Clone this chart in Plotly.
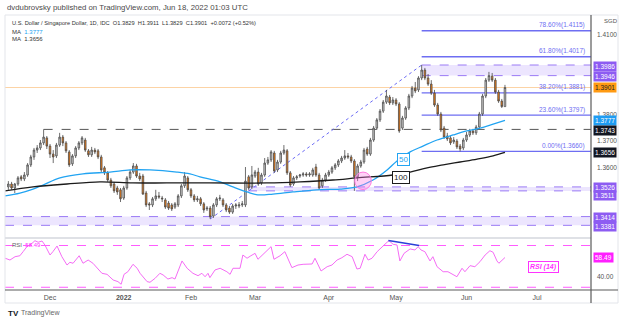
import numpy as np
import pandas as pd
import plotly.graph_objects as go

# ---------------- data ----------------
dates = pd.bdate_range("2021-11-12", "2022-06-17")   # daily bars, USD/SGD

opens = [1.3526, 1.3537, 1.3522, 1.3537, 1.3564, 1.3556, 1.3571, 1.3609, 1.3639, 1.3665, 1.3673, 1.3692, 1.3711,
         1.3680, 1.3650, 1.3643, 1.3684, 1.3714, 1.3692, 1.3658, 1.3613, 1.3643, 1.3673,
         1.3692, 1.3703, 1.3662, 1.3647, 1.3665, 1.3662, 1.3639, 1.3598, 1.3579, 1.3552,
         1.3537, 1.3522, 1.3515, 1.3484, 1.3522, 1.3560, 1.3582, 1.3605, 1.3567, 1.3567,
         1.3503, 1.3462, 1.3458, 1.3481, 1.3492, 1.3484, 1.3477, 1.3465, 1.3458, 1.3450,
         1.3458, 1.3492, 1.3530, 1.3560, 1.3515, 1.3492, 1.3477, 1.3481, 1.3462, 1.3443,
         1.3446, 1.3416, 1.3458, 1.3481, 1.3477, 1.3458, 1.3446, 1.3431, 1.3454, 1.3454,
         1.3458, 1.3458, 1.3564, 1.3526, 1.3567, 1.3582, 1.3541, 1.3571, 1.3616, 1.3628,
         1.3654, 1.3590, 1.3620, 1.3654, 1.3662, 1.3579, 1.3537, 1.3560, 1.3567, 1.3571,
         1.3575, 1.3571, 1.3571, 1.3601, 1.3571, 1.3530, 1.3552, 1.3571, 1.3582, 1.3598,
         1.3609, 1.3624, 1.3635, 1.3643, 1.3639, 1.3624, 1.3564, 1.3605, 1.3620, 1.3669,
         1.3650, 1.3703, 1.3748, 1.3779, 1.3812, 1.3846, 1.3865, 1.3843, 1.3854, 1.3839,
         1.3748, 1.3786, 1.3824, 1.3869, 1.3899, 1.3892, 1.3937, 1.3967, 1.3937, 1.3914,
         1.3880, 1.3835, 1.3801, 1.3748, 1.3718, 1.3711, 1.3696, 1.3699, 1.3680, 1.3673,
         1.3703, 1.3722, 1.3737, 1.3730, 1.3752, 1.3801, 1.3869, 1.3929, 1.3944, 1.3929,
         1.3884, 1.3850, 1.3829]
highs = [1.3548, 1.3545, 1.3541, 1.3567, 1.3571, 1.3582, 1.3616, 1.3647, 1.3673, 1.3684, 1.3703, 1.3743, 1.3718,
         1.3688, 1.3665, 1.3692, 1.3730, 1.3722, 1.3699, 1.3665, 1.3650, 1.3680, 1.3699,
         1.3718, 1.3711, 1.3669, 1.3677, 1.3673, 1.3669, 1.3647, 1.3605, 1.3586, 1.3560,
         1.3545, 1.3530, 1.3522, 1.3530, 1.3567, 1.3590, 1.3616, 1.3613, 1.3579, 1.3575,
         1.3511, 1.3469, 1.3488, 1.3515, 1.3507, 1.3492, 1.3484, 1.3473, 1.3465, 1.3469,
         1.3499, 1.3537, 1.3582, 1.3567, 1.3522, 1.3499, 1.3492, 1.3488, 1.3469, 1.3454,
         1.3454, 1.3465, 1.3488, 1.3496, 1.3484, 1.3465, 1.3454, 1.3462, 1.3465, 1.3469,
         1.3473, 1.3601, 1.3571, 1.3605, 1.3590, 1.3598, 1.3579, 1.3635, 1.3639, 1.3665,
         1.3662, 1.3628, 1.3662, 1.3684, 1.3669, 1.3586, 1.3567, 1.3571, 1.3575, 1.3582,
         1.3582, 1.3582, 1.3598, 1.3613, 1.3579, 1.3560, 1.3579, 1.3590, 1.3605, 1.3616,
         1.3631, 1.3643, 1.3665, 1.3654, 1.3647, 1.3631, 1.3613, 1.3628, 1.3673, 1.3677,
         1.3711, 1.3756, 1.3786, 1.3820, 1.3854, 1.3892, 1.3873, 1.3865, 1.3861, 1.3846,
         1.3794, 1.3831, 1.3877, 1.3907, 1.3922, 1.3944, 1.3986, 1.3975, 1.3952, 1.3929,
         1.3892, 1.3843, 1.3809, 1.3756, 1.3730, 1.3718, 1.3714, 1.3707, 1.3688, 1.3711,
         1.3733, 1.3745, 1.3745, 1.3760, 1.3809, 1.3877, 1.3937, 1.3960, 1.3956, 1.3937,
         1.3892, 1.3858, 1.3911]
lows = [1.3515, 1.3515, 1.3503, 1.3530, 1.3548, 1.3548, 1.3564, 1.3601, 1.3628, 1.3654, 1.3665, 1.3684, 1.3669,
        1.3635, 1.3616, 1.3635, 1.3677, 1.3680, 1.3654, 1.3601, 1.3605, 1.3635, 1.3665,
        1.3684, 1.3658, 1.3639, 1.3639, 1.3650, 1.3631, 1.3582, 1.3571, 1.3545, 1.3522,
        1.3503, 1.3496, 1.3469, 1.3477, 1.3515, 1.3552, 1.3575, 1.3560, 1.3548, 1.3496,
        1.3450, 1.3439, 1.3450, 1.3473, 1.3481, 1.3469, 1.3443, 1.3439, 1.3435, 1.3443,
        1.3450, 1.3484, 1.3522, 1.3507, 1.3484, 1.3469, 1.3469, 1.3454, 1.3428, 1.3435,
        1.3405, 1.3409, 1.3450, 1.3473, 1.3450, 1.3431, 1.3424, 1.3424, 1.3443, 1.3446,
        1.3450, 1.3450, 1.3515, 1.3518, 1.3560, 1.3530, 1.3533, 1.3564, 1.3609, 1.3620,
        1.3579, 1.3582, 1.3613, 1.3647, 1.3571, 1.3526, 1.3530, 1.3552, 1.3560, 1.3564,
        1.3564, 1.3564, 1.3564, 1.3564, 1.3515, 1.3522, 1.3545, 1.3564, 1.3575, 1.3590,
        1.3601, 1.3616, 1.3628, 1.3631, 1.3616, 1.3511, 1.3548, 1.3598, 1.3613, 1.3643,
        1.3643, 1.3696, 1.3741, 1.3771, 1.3805, 1.3839, 1.3835, 1.3835, 1.3831, 1.3730,
        1.3741, 1.3779, 1.3816, 1.3861, 1.3880, 1.3884, 1.3929, 1.3929, 1.3907, 1.3873,
        1.3828, 1.3794, 1.3733, 1.3707, 1.3699, 1.3684, 1.3688, 1.3669, 1.3660, 1.3665,
        1.3696, 1.3714, 1.3722, 1.3722, 1.3745, 1.3794, 1.3861, 1.3922, 1.3922, 1.3877,
        1.3843, 1.3824, 1.3829]
closes = [1.3537, 1.3522, 1.3537, 1.3560, 1.3556, 1.3571, 1.3609, 1.3639, 1.3665, 1.3673, 1.3692, 1.3714, 1.3680,
          1.3650, 1.3639, 1.3684, 1.3714, 1.3692, 1.3662, 1.3609, 1.3643, 1.3673, 1.3692,
          1.3711, 1.3665, 1.3647, 1.3665, 1.3658, 1.3639, 1.3590, 1.3579, 1.3552, 1.3530,
          1.3511, 1.3507, 1.3481, 1.3522, 1.3560, 1.3582, 1.3605, 1.3567, 1.3556, 1.3499,
          1.3458, 1.3458, 1.3481, 1.3492, 1.3488, 1.3481, 1.3450, 1.3446, 1.3443, 1.3462,
          1.3492, 1.3530, 1.3567, 1.3515, 1.3492, 1.3477, 1.3481, 1.3462, 1.3439, 1.3446,
          1.3413, 1.3458, 1.3481, 1.3484, 1.3458, 1.3439, 1.3431, 1.3454, 1.3458, 1.3458,
          1.3462, 1.3548, 1.3522, 1.3571, 1.3582, 1.3537, 1.3571, 1.3616, 1.3628, 1.3658,
          1.3586, 1.3620, 1.3654, 1.3665, 1.3579, 1.3533, 1.3560, 1.3564, 1.3571, 1.3575,
          1.3571, 1.3575, 1.3590, 1.3571, 1.3522, 1.3552, 1.3571, 1.3582, 1.3598, 1.3609,
          1.3624, 1.3635, 1.3643, 1.3639, 1.3624, 1.3564, 1.3605, 1.3620, 1.3665, 1.3650,
          1.3703, 1.3748, 1.3779, 1.3812, 1.3846, 1.3869, 1.3843, 1.3854, 1.3839, 1.3737,
          1.3786, 1.3824, 1.3869, 1.3899, 1.3888, 1.3937, 1.3967, 1.3937, 1.3914, 1.3880,
          1.3835, 1.3801, 1.3741, 1.3714, 1.3707, 1.3692, 1.3703, 1.3677, 1.3669, 1.3703,
          1.3722, 1.3737, 1.3730, 1.3752, 1.3801, 1.3869, 1.3929, 1.3946, 1.3929, 1.3884,
          1.3850, 1.3829, 1.3901]

# moving averages, read as points (bar position relative to 1 Dec 2021, value)
ma50_bar = [-14.0, -9.4, -5.3, -2.2, 3.1, 10.3, 18.7, 25.0, 31.2, 39.6, 43.7, 46.8, 53.1, 57.1, 61.5, 64.9,
            69.6, 75.8, 83.3, 90.5, 95.8, 100.8, 105.2, 108.3, 112.4, 116.4, 120.8, 125.8, 130.1, 134.2, 138.3, 142.0]
ma50_val = [1.3492, 1.3503, 1.3518, 1.3533, 1.3560, 1.3575, 1.3582, 1.3590, 1.3590, 1.3582, 1.3575, 1.3564,
            1.3545, 1.3526, 1.3507, 1.3496, 1.3499, 1.3507, 1.3515, 1.3518, 1.3526, 1.3552, 1.3590, 1.3624,
            1.3658, 1.3680, 1.3703, 1.3722, 1.3737, 1.3748, 1.3763, 1.3777]
ma100_bar = [-14.0, -5.3, 5.3, 15.6, 25.9, 36.5, 49.9, 67.7, 78.0, 88.3, 95.8, 107.0, 112.4, 117.7, 122.7,
             128.0, 133.3, 138.3, 142.0]
ma100_val = [1.3511, 1.3526, 1.3537, 1.3545, 1.3541, 1.3541, 1.3541, 1.3541, 1.3545, 1.3552, 1.3560, 1.3571,
             1.3582, 1.3598, 1.3609, 1.3620, 1.3631, 1.3643, 1.3656]

# RSI(14), read as points
rsi_bar = [-14.0, -12.5, -10.9, -9.4, -8.4, -7.2, -5.6, -4.7, -3.7, -2.5, -1.6, 0.0, 0.9, 2.2, 3.7, 5.3, 6.2,
           7.2, 9.1, 10.3, 11.9, 13.4, 16.2, 17.8, 19.7, 21.2, 22.2, 23.1, 24.3, 25.9, 27.2, 28.1, 30.3,
           31.2, 32.8, 34.3, 35.3, 36.8, 38.1, 39.0, 41.2, 42.8, 44.6, 46.2, 47.4, 48.4, 49.3, 49.9, 51.5,
           53.1, 55.2, 56.2, 57.1, 59.3, 60.2, 61.5, 62.7, 64.0, 64.9, 66.2, 67.7, 69.0, 69.9, 71.8, 73.3,
           75.5, 77.4, 79.0, 81.8, 82.7, 84.6, 86.5, 88.0, 89.6, 91.1, 92.7, 94.3, 95.8, 96.8, 98.3, 99.3,
           100.5, 102.1, 103.6, 105.2, 105.8, 107.1, 108.3, 109.2, 110.5, 112.4, 113.9, 114.9, 115.8,
           117.0, 118.6, 119.5, 120.8, 122.7, 124.2, 127.0, 128.6, 129.5, 131.1, 132.6, 134.2, 135.8,
           137.3, 138.3, 139.5, 140.1, 142.0]
rsi_val = [57.8, 56.1, 59.3, 60.2, 64.1, 68.9, 72.1, 74.6, 73.1, 74.3, 70.5, 60.9, 64.1, 69.5, 59.3, 51.3, 53.9,
           53.0, 60.2, 53.0, 56.1, 53.0, 43.4, 42.4, 37.0, 35.4, 32.9, 42.4, 44.9, 52.0, 48.2, 43.4, 35.4,
           34.8, 38.6, 43.4, 41.8, 37.9, 39.2, 37.9, 55.2, 48.2, 43.4, 41.1, 43.4, 40.1, 43.4, 39.2, 46.6,
           48.2, 44.9, 42.4, 48.2, 48.2, 60.9, 57.8, 60.2, 62.5, 56.8, 60.9, 64.7, 68.9, 56.8, 60.2, 64.1,
           48.8, 51.3, 52.0, 52.3, 57.8, 45.6, 49.7, 51.3, 56.1, 58.3, 61.6, 59.3, 47.5, 48.2, 61.6, 56.1,
           57.8, 64.1, 68.9, 73.1, 74.6, 71.1, 70.5, 55.2, 62.5, 66.7, 65.7, 68.9, 65.7,
           64.1, 55.2, 59.3, 49.7, 44.9, 44.9, 40.1, 48.2, 44.9, 50.7, 49.7, 54.5, 60.9,
           65.0, 63.5, 55.2, 53.0, 58.49]

month_starts = ["2021-12-01", "2022-01-03", "2022-02-01", "2022-03-01", "2022-04-01", "2022-05-02",
                "2022-06-01", "2022-07-01"]
month_labels = ["Dec", "<b>2022</b>", "Feb", "Mar", "Apr", "May", "Jun", "Jul"]

fib_ratio = ["78.60%", "61.80%", "38.20%", "23.60%", "0.00%"]
fib_price = [1.4115, 1.4017, 1.3881, 1.3797, 1.3660]

zone_hi = (1.3946, 1.3986)
zone_mid = (1.3511, 1.3526)
zone_lo = (1.3381, 1.3414)
level_dashed = 1.3743
trend_start = (50, 1.3405)
trend_end = (116, 1.3986)
div_start = (105.6, 74.8)
div_end = (115.2, 70.0)
circle_center = (97.7, 1.3549)

# ---------------- geometry helpers ----------------
all_days = pd.bdate_range("2021-11-12", "2022-07-01")
origin = all_days.get_loc(pd.Timestamp("2021-12-01"))
bar_x = np.arange(len(dates)) - origin
tick_x = [all_days.get_loc(pd.Timestamp(m)) - origin for m in month_starts]

L, R, T, B = 5, 591, 15, 290        # plot-area pixels
def xp(px):
    return (px - L) / (R - L)
def yp(py):
    return (B - py) / (B - T)

X0, X1 = -14.05, 168.85
Y_RANGE = [1.33351, 1.41747]
RSI_RANGE = [27.4, 76.7]

FONT = "Liberation Sans"
PURPLE = "#9a7af5"
FIB = "#6e6ef2"

fig = go.Figure()

fig.add_trace(go.Candlestick(
    x=bar_x, open=opens, high=highs, low=lows, close=closes,
    increasing=dict(fillcolor="#d4d4d4", line=dict(color="#4a4a4a", width=0.8)),
    decreasing=dict(fillcolor="#f27c12", line=dict(color="#4a4a4a", width=0.8)),
    whiskerwidth=0, showlegend=False, hoverinfo="skip", xaxis="x", yaxis="y"))

fig.add_trace(go.Scatter(x=ma50_bar, y=ma50_val, mode="lines", line=dict(color="#22a4f2", width=1.3, shape="spline"),
                         showlegend=False, hoverinfo="skip", xaxis="x", yaxis="y"))
fig.add_trace(go.Scatter(x=ma100_bar, y=ma100_val, mode="lines", line=dict(color="#1b1b1b", width=1.3, shape="spline"),
                         showlegend=False, hoverinfo="skip", xaxis="x", yaxis="y"))
fig.add_trace(go.Scatter(x=rsi_bar, y=rsi_val, mode="lines", line=dict(color="#f56cf5", width=1),
                         showlegend=False, hoverinfo="skip", xaxis="x", yaxis="y2"))

shapes = []
def hline(y, x0, x1, color, width=1, dash="solid", yref="y", layer="below"):
    shapes.append(dict(type="line", xref="x", yref=yref, x0=x0, x1=x1, y0=y, y1=y,
                       line=dict(color=color, width=width, dash=dash), layer=layer))

def zone(lo, hi, x0):
    shapes.append(dict(type="rect", xref="x", yref="y", x0=x0, x1=X1, y0=lo, y1=hi,
                       fillcolor="rgba(186,160,250,0.28)", line=dict(width=0), layer="below"))
    hline(lo, x0, X1, PURPLE, 1, "dash")
    hline(hi, x0, X1, PURPLE, 1, "dash")

zone(*zone_lo, X0)
zone(*zone_mid, 61.8)
zone(*zone_hi, 116)
hline(closes[-1], X0, X1, "#fcd3a4", 1)
hline(level_dashed, -2, X1, "#555555", 1, "dash")
for fp in fib_price:
    hline(fp, 116, X1, FIB, 1.4)
shapes.append(dict(type="line", xref="x", yref="y", x0=trend_start[0], y0=trend_start[1], x1=trend_end[0],
                   y1=trend_end[1], line=dict(color="#6b6bf5", width=1, dash="dot"), layer="below"))
cx, cy = circle_center
shapes.append(dict(type="circle", xref="x", yref="y", x0=cx - 2.6, x1=cx + 2.6, y0=cy - 0.0033, y1=cy + 0.0033,
                   fillcolor="rgba(255,120,230,0.35)", line=dict(color="#ff7ae0", width=1), layer="above"))
# RSI pane
hline(70, X0, X1, "#ff5cff", 1, "dash", "y2")
hline(30, X0, X1, "#ff5cff", 1, "dash", "y2")
shapes.append(dict(type="line", xref="x", yref="y2", x0=div_start[0], y0=div_start[1], x1=div_end[0], y1=div_end[1],
                   line=dict(color="#2b40d8", width=1.6)))
# frame & axes lines
shapes.append(dict(type="rect", xref="paper", yref="paper", x0=0, x1=xp(618), y0=yp(303), y1=1,
                   line=dict(color="#e3e5ea", width=1), layer="above"))
shapes.append(dict(type="line", xref="paper", yref="paper", x0=0, x1=1, y0=yp(238), y1=yp(238),
                   line=dict(color="#dfe1e6", width=2)))
shapes.append(dict(type="line", xref="paper", yref="paper", x0=0, x1=xp(618), y0=0, y1=0,
                   line=dict(color="#5a5a5a", width=1.2)))
shapes.append(dict(type="line", xref="paper", yref="paper", x0=1, x1=1, y0=yp(303), y1=1,
                   line=dict(color="#5a5a5a", width=1.2)))

ann = []
def text(x, y, t, size=6.5, color="#333", xanchor="left", yanchor="middle", **kw):
    ann.append(dict(x=x, y=y, xref="paper", yref="paper", text=t, showarrow=False, xanchor=xanchor,
                    yanchor=yanchor, font=dict(family=FONT, size=size, color=color), **kw))

text(xp(5), yp(7.3), "dvdubrovsky published on TradingView.com, Jun 18, 2022 01:03 UTC", size=7.8, color="#4a4a4a")
chg = closes[-1] - closes[-2]
line1 = ("U.S. Dollar / Singapore Dollar, 1D, IDC&nbsp; O%.4f&nbsp; H%.4f&nbsp; L%.4f&nbsp; C%.4f"
         "&nbsp; %+.4f (%+.2f%%)") % (opens[-1], highs[-1], lows[-1], closes[-1], chg, chg / closes[-2] * 100)
text(xp(10), yp(22.7), line1, size=5.7)
text(xp(10), yp(31.7), "MA&nbsp;&nbsp;<span style='color:#22a4f2'>%.4f</span>" % ma50_val[-1], size=6)
text(xp(10), yp(39.3), "MA&nbsp;&nbsp;%.4f" % ma100_val[-1], size=6)
text(xp(602), yp(21), "SGD", size=6, color="#555")
text(xp(10), yp(245), "<span style='color:#666'>RSI</span>&nbsp;&nbsp;<span style='color:#ff33ff'>%.2f</span>" % rsi_val[-1], size=6)
text(xp(6), yp(313), "<b>TV</b>", size=8, color="#131722")
text(xp(19), yp(313), "TradingView", size=7, color="#666")
text(xp(543), yp(267), "<b><i>RSI (14)</i></b>", size=7, color="#ff33ff", xanchor="center",
     bordercolor="#ff33ff", borderwidth=1, borderpad=1, bgcolor="white")

for r, fp in zip(fib_ratio, fib_price):
    ann.append(dict(x=xp(587), y=fp, xref="paper", yref="y", text="%s(%.4f)" % (r, fp), showarrow=False,
                    xanchor="right", yanchor="middle", yshift=5.5, font=dict(family=FONT, size=6.5, color=FIB)))

ann.append(dict(x=110.2, y=1.3628, xref="x", yref="y", text="50", showarrow=False, bgcolor="white",
                bordercolor="#22a4f2", borderwidth=1, borderpad=1, font=dict(family=FONT, size=8, color="#22a4f2")))
ann.append(dict(x=109.5, y=1.3563, xref="x", yref="y", text="100", showarrow=False, bgcolor="white",
                bordercolor="#1b1b1b", borderwidth=1, borderpad=1, font=dict(family=FONT, size=8, color="#1b1b1b")))

def plabel(v, bg, fg="white", yshift=0, yref="y", fmt="%.4f"):
    ann.append(dict(x=xp(593), y=v, xref="paper", yref=yref, text=fmt % v, showarrow=False, xanchor="left",
                    yanchor="middle", bgcolor=bg, borderpad=1, yshift=yshift,
                    font=dict(family=FONT, size=6.5, color=fg)))

plabel(zone_hi[1], "#8d5cf2", yshift=-1)
plabel(zone_hi[0], "#8d5cf2", yshift=-1)
plabel(closes[-1], "#ff9a12", fg="#222")
plabel(ma50_val[-1], "#1e9cf2")
plabel(level_dashed, "#131722", yshift=-1)
plabel(ma100_val[-1], "#131722")
plabel(zone_mid[1], "#8d5cf2", yshift=-1)
plabel(zone_mid[0], "#8d5cf2", yshift=-5)
plabel(zone_lo[1], "#8d5cf2", yshift=-1)
plabel(zone_lo[0], "#8d5cf2", yshift=-1)
plabel(rsi_val[-1], "#ff1fff", yref="y2", fmt="%.2f")

fig.update_layout(
    width=624, height=322, margin=dict(l=L, r=624 - R, t=T, b=322 - B),
    paper_bgcolor="white", plot_bgcolor="white", showlegend=False,
    font=dict(family=FONT, size=7, color="#555"),
    shapes=shapes, annotations=ann,
    xaxis=dict(domain=[0, 1], anchor="y2", range=[X0, X1], tickvals=tick_x, ticktext=month_labels,
               showgrid=False, zeroline=False, showline=False, ticks="", rangeslider=dict(visible=False),
               tickfont=dict(size=7, color="#555"), ticklabelstandoff=2),
    yaxis=dict(domain=[yp(237.5), 1], anchor="x", side="right", range=Y_RANGE,
               tickvals=[1.36, 1.37, 1.38, 1.41], ticktext=["1.3600", "1.3700", "1.3800", "1.4100"],
               showgrid=False, zeroline=False, showline=False, ticks="", ticklabelstandoff=5,
               tickfont=dict(size=6.5, color="#555")),
    yaxis2=dict(domain=[0, yp(238.5)], anchor="x", side="right", range=RSI_RANGE, tickvals=[40],
                ticktext=["40.00"], showgrid=False, zeroline=False, showline=False, ticks="",
                ticklabelstandoff=5, tickfont=dict(size=6.5, color="#555")),
)

fig.write_html("out.html")
